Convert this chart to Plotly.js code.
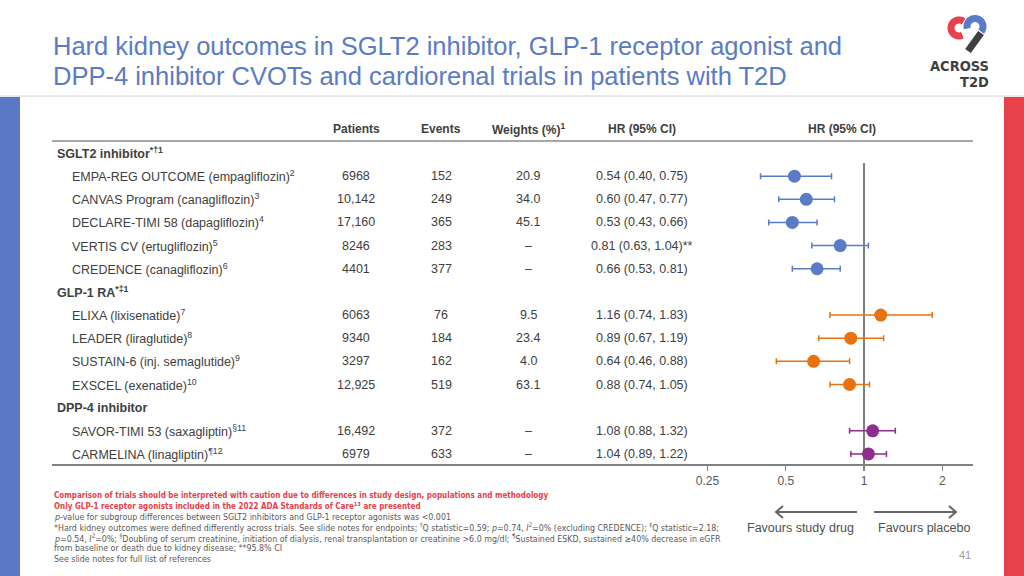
<!DOCTYPE html>
<html>
<head>
<meta charset="utf-8">
<script src="https://cdn.plot.ly/plotly-3.0.1.min.js"></script>
<style>html,body{margin:0;padding:0;background:#fff;}#chart{width:1024px;height:576px;}</style>
</head>
<body>
<div id="chart"></div>
<script>
// ---------- data ----------
const titleLines = [
  "Hard kidney outcomes in SGLT2 inhibitor, GLP-1 receptor agonist and",
  "DPP-4 inhibitor CVOTs and cardiorenal trials in patients with T2D"
];
const columnHeaders = ["Patients", "Events", "Weights (%)<sup>1</sup>", "HR (95% CI)", "HR (95% CI)"];
const groups = ["SGLT2 inhibitor<sup>*†1</sup>", "GLP-1 RA<sup>*‡1</sup>", "DPP-4 inhibitor"];
const trials = [
  "EMPA-REG OUTCOME (empagliflozin)<sup>2</sup>",
  "CANVAS Program (canagliflozin)<sup>3</sup>",
  "DECLARE-TIMI 58 (dapagliflozin)<sup>4</sup>",
  "VERTIS CV (ertugliflozin)<sup>5</sup>",
  "CREDENCE (canagliflozin)<sup>6</sup>",
  "ELIXA (lixisenatide)<sup>7</sup>",
  "LEADER (liraglutide)<sup>8</sup>",
  "SUSTAIN-6 (inj. semaglutide)<sup>9</sup>",
  "EXSCEL (exenatide)<sup>10</sup>",
  "SAVOR-TIMI 53 (saxagliptin)<sup>§11</sup>",
  "CARMELINA (linagliptin)<sup>¶12</sup>"
];
const trialGroup = [0, 0, 0, 0, 0, 1, 1, 1, 1, 2, 2];
const patients = ["6968", "10,142", "17,160", "8246", "4401", "6063", "9340", "3297", "12,925", "16,492", "6979"];
const events = ["152", "249", "365", "283", "377", "76", "184", "162", "519", "372", "633"];
const weights = ["20.9", "34.0", "45.1", "–", "–", "9.5", "23.4", "4.0", "63.1", "–", "–"];
const hr = [0.54, 0.60, 0.53, 0.81, 0.66, 1.16, 0.89, 0.64, 0.88, 1.08, 1.04];
const ciLow = [0.40, 0.47, 0.43, 0.63, 0.53, 0.74, 0.67, 0.46, 0.74, 0.88, 0.89];
const ciHigh = [0.75, 0.77, 0.66, 1.04, 0.81, 1.83, 1.19, 0.88, 1.05, 1.32, 1.22];
const hrNote = ["", "", "", "**", "", "", "", "", "", "", ""];
const tickVals = [0.25, 0.5, 1, 2];
const tickText = ["0.25", "0.5", "1", "2"];
const favourLabels = ["Favours study drug", "Favours placebo"];
const redNotes = [
  "Comparison of trials should be interpreted with caution due to differences in study design, populations and methodology",
  "Only GLP-1 receptor agonists included in the 2022 ADA Standards of Care<sup>13</sup> are presented"
];
const greyNotes = [
  "<i>p</i>-value for subgroup differences between SGLT2 inhibitors and GLP-1 receptor agonists was &lt;0.001",
  "*Hard kidney outcomes were defined differently across trials. See slide notes for endpoints; <sup>†</sup>Q statistic=0.59; <i>p</i>=0.74, <i>I</i><sup>2</sup>=0% (excluding CREDENCE); <sup>‡</sup>Q statistic=2.18;",
  "<i>p</i>=0.54, <i>I</i><sup>2</sup>=0%; <sup>§</sup>Doubling of serum creatinine, initiation of dialysis, renal transplantation or creatinine &gt;6.0 mg/dl; <sup>¶</sup>Sustained ESKD, sustained ≥40% decrease in eGFR",
  "from baseline or death due to kidney disease; **95.8% CI",
  "See slide notes for full list of references"
];
const pageNumber = "41";

// ---------- styles ----------
const W = 1024, H = 576;
const groupColors = ["#5B7BC6", "#E8730E", "#8E2E8E"];
const txt = "#404040";
const FONT = "'Liberation Sans', Arial, sans-serif";
const NARROW = "'Liberation Sans Narrow', 'Arial Narrow', 'DejaVu Sans Condensed', sans-serif";
const px = x => x / W;
const py = y => 1 - y / H;

// ---------- rows ----------
const rowLabel = [], rowIsGroup = [];
const trialRow = [];
groups.forEach((g, gi) => {
  rowLabel.push(g); rowIsGroup.push(true);
  trials.forEach((t, ti) => {
    if (trialGroup[ti] === gi) {
      trialRow[ti] = rowLabel.length;
      rowLabel.push(t); rowIsGroup.push(false);
    }
  });
});

const rowTop = 153, rowStep = 23.15;
const plotTop = 141, plotBot = 464;
const yRange = [(plotBot - rowTop) / rowStep, (plotTop - rowTop) / rowStep];
const xLeft = 52, xRight = 973, xOne = 864, pxPerDecade = 260;
const xRange = [(xLeft - xOne) / pxPerDecade, (xRight - xOne) / pxPerDecade];

// ---------- traces ----------
const traces = groups.map((g, gi) => {
  const idx = trials.map((t, i) => i).filter(i => trialGroup[i] === gi);
  return {
    type: "scatter", mode: "markers",
    x: idx.map(i => hr[i]),
    y: idx.map(i => trialRow[i]),
    marker: {size: 13, color: groupColors[gi]},
    error_x: {
      type: "data", symmetric: false,
      array: idx.map(i => ciHigh[i] - hr[i]),
      arrayminus: idx.map(i => hr[i] - ciLow[i]),
      color: groupColors[gi], thickness: 1.5, width: 3
    },
    hoverinfo: "skip", showlegend: false, cliponaxis: false
  };
});

// ---------- annotations ----------
const ann = [];
titleLines.forEach((t, i) => ann.push({
  text: t, xref: "paper", yref: "paper", x: px(51), y: py(46 + i * 30),
  xanchor: "left", yanchor: "middle", showarrow: false,
  font: {family: FONT, size: 25.5, color: "#5B7BC4"}
}));
const headerX = [356, 441, 528, 642, 842];
columnHeaders.forEach((h, i) => ann.push({
  text: "<b>" + h + "</b>", xref: "paper", yref: "paper", x: px(headerX[i]), y: py(129),
  xanchor: "center", yanchor: "middle", showarrow: false,
  font: {family: FONT, size: 12, color: txt}
}));
rowLabel.forEach((l, r) => ann.push({
  text: rowIsGroup[r] ? "<b>" + l + "</b>" : l,
  xref: "paper", yref: "y", x: px(rowIsGroup[r] ? 55 : 70), y: r,
  xanchor: "left", yanchor: "middle", showarrow: false,
  font: {family: FONT, size: 12.5, color: txt}
}));
const cols = [patients, events, weights, hr.map((v, i) => v.toFixed(2) + " (" + ciLow[i].toFixed(2) + ", " + ciHigh[i].toFixed(2) + ")" + hrNote[i])];
cols.forEach((c, ci) => c.forEach((v, i) => ann.push({
  text: v, xref: "paper", yref: "y", x: px(headerX[ci]), y: trialRow[i],
  xanchor: "center", yanchor: "middle", showarrow: false,
  font: {family: FONT, size: 12.5, color: txt}
})));
redNotes.forEach((t, i) => ann.push({
  text: "<b>" + t + "</b>", xref: "paper", yref: "paper", x: px(52), y: py(495 + i * 10.7),
  xanchor: "left", yanchor: "middle", showarrow: false,
  font: {family: NARROW, size: 8, color: "#E8404A"}
}));
greyNotes.forEach((t, i) => ann.push({
  text: t, xref: "paper", yref: "paper", x: px(52), y: py(517 + i * 10.4),
  xanchor: "left", yanchor: "middle", showarrow: false,
  font: {family: NARROW, size: 8.8, color: "#595959"}
}));
[800, 924].forEach((x, i) => ann.push({
  text: favourLabels[i], xref: "paper", yref: "paper", x: px(x), y: py(528),
  xanchor: "center", yanchor: "middle", showarrow: false,
  font: {family: FONT, size: 12.5, color: "#505050"}
}));
ann.push({text: pageNumber, xref: "paper", yref: "paper", x: px(973), y: py(555),
  xanchor: "right", yanchor: "middle", showarrow: false,
  font: {family: FONT, size: 11, color: "#9a9a9a"}});
ann.push({text: "<b>ACROSS</b>", xref: "paper", yref: "paper", x: px(991), y: py(66),
  xanchor: "right", yanchor: "middle", showarrow: false,
  font: {family: NARROW, size: 14.5, color: "#3f3f3f"}});
ann.push({text: "<b>T2D</b>", xref: "paper", yref: "paper", x: px(991), y: py(82.5),
  xanchor: "right", yanchor: "middle", showarrow: false,
  font: {family: NARROW, size: 14.5, color: "#3f3f3f"}});

// ---------- shapes ----------
const P = (x, y) => px(x).toFixed(5) + "," + py(y).toFixed(5);
function arcPath(cx, cy, r, a0, a1) {
  let s = "";
  const n = 30;
  for (let k = 0; k <= n; k++) {
    const a = (a0 + (a1 - a0) * k / n) * Math.PI / 180;
    s += (k ? " L" : "M") + P(cx + r * Math.cos(a), cy + r * Math.sin(a));
  }
  return s;
}
const line = (x0, y0, x1, y1, color, w) => ({type: "line", xref: "paper", yref: "paper",
  x0: px(x0), y0: py(y0), x1: px(x1), y1: py(y1), line: {color: color, width: w}});
const shapes = [
  {type: "rect", xref: "paper", yref: "paper", x0: 0, x1: px(20), y0: 0, y1: py(97), fillcolor: "#5B78C4", line: {width: 0}, layer: "below"},
  {type: "rect", xref: "paper", yref: "paper", x0: px(1004), x1: 1, y0: 0, y1: py(97), fillcolor: "#E9414B", line: {width: 0}, layer: "below"},
  line(0, 96, 1024, 96, "#D4D4D4", 1),
  line(xLeft, plotTop, xRight, plotTop, "#8A8A8A", 1.5),
  {type: "line", xref: "x", yref: "paper", x0: 1, x1: 1, y0: py(plotBot), y1: py(163), line: {color: "#555", width: 1.5}, layer: "below"},
  line(857, 512, 776, 512, "#666", 2),
  {type: "path", xref: "paper", yref: "paper", path: "M" + P(783, 506) + " L" + P(776, 512) + " L" + P(783, 518), line: {color: "#666", width: 2}},
  line(874, 512, 956, 512, "#666", 2),
  {type: "path", xref: "paper", yref: "paper", path: "M" + P(949, 506) + " L" + P(956, 512) + " L" + P(949, 518), line: {color: "#666", width: 2}},
  // logo
  {type: "path", xref: "paper", yref: "paper", path: arcPath(959, 28, 8, -55, -295), line: {color: "#E9414B", width: 7}},
  {type: "path", xref: "paper", yref: "paper", path: arcPath(975, 26.5, 8, 165, 400), line: {color: "#5B7BC6", width: 7}},
  line(981, 33, 968, 51, "#3f3f3f", 7)
];

const layout = {
  width: W, height: H, margin: {l: 0, r: 0, t: 0, b: 0},
  paper_bgcolor: "#fff", plot_bgcolor: "rgba(0,0,0,0)",
  showlegend: false,
  xaxis: {
    type: "log", domain: [px(xLeft), px(xRight)], range: xRange,
    tickvals: tickVals, ticktext: tickText, ticks: "outside", ticklen: 5, tickcolor: "#808080", tickwidth: 1.5,
    showline: true, linecolor: "#808080", linewidth: 1.5, showgrid: false, zeroline: false,
    tickfont: {family: FONT, size: 12, color: "#595959"}, fixedrange: true
  },
  yaxis: {
    domain: [py(plotBot), py(plotTop)], range: yRange,
    showticklabels: false, showgrid: false, zeroline: false, showline: false, ticks: "", fixedrange: true
  },
  annotations: ann, shapes: shapes
};
Plotly.newPlot("chart", traces, layout, {displayModeBar: false, staticPlot: true});
</script>
</body>
</html>
